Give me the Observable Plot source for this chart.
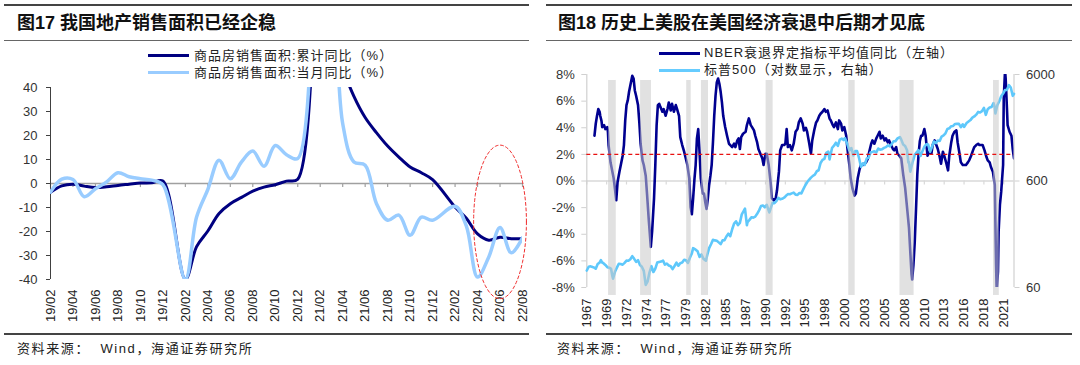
<!DOCTYPE html>
<html><head><meta charset="utf-8">
<script src="https://cdn.jsdelivr.net/npm/d3@7"></script>
<script src="https://cdn.jsdelivr.net/npm/@observablehq/plot@0.6"></script>
<style>
body{margin:0;width:1080px;height:365px;background:#fff;position:relative;overflow:hidden;font-family:"Liberation Sans",Arial,"Noto Sans CJK SC",sans-serif;color:#222}
.abs{position:absolute}
.rule{position:absolute;background:#444}
.title{position:absolute;font-size:18px;line-height:20px;font-weight:700;white-space:pre;color:#111}
.leg{position:absolute;font-size:13px;line-height:14px;letter-spacing:1px;white-space:pre;color:#222;font-family:"Liberation Sans",Arial,"Noto Sans CJK SC",sans-serif}
.sw{position:absolute;height:3px;width:41px}
.src{position:absolute;font-size:13px;line-height:14px;letter-spacing:1.6px;white-space:pre;color:#222}
</style>
</head><body>
<!-- left panel -->
<div class="rule" style="left:4px;top:4px;width:525px;height:1.5px"></div>
<div class="title" style="left:17px;top:13px">图17 我国地产销售面积已经企稳</div>
<div class="rule" style="left:4px;top:40px;width:525px;height:1px;background:#666"></div>
<div class="sw" style="left:148px;top:54px;background:#000080"></div>
<div class="leg" style="left:194px;top:49px">商品房销售面积:累计同比（%）</div>
<div class="sw" style="left:148px;top:71px;background:#99ccff"></div>
<div class="leg" style="left:194px;top:66px">商品房销售面积:当月同比（%）</div>
<div id="lp" class="abs" style="left:0;top:80px"></div>
<div class="rule" style="left:4px;top:333px;width:525px;height:1.5px"></div>
<div class="src" style="left:17px;top:342px">资料来源：  Wind，海通证券研究所</div>
<!-- right panel -->
<div class="rule" style="left:546px;top:4px;width:526px;height:1.5px"></div>
<div class="title" style="left:558px;top:13px">图18 历史上美股在美国经济衰退中后期才见底</div>
<div class="rule" style="left:546px;top:40px;width:526px;height:1px;background:#666"></div>
<div class="sw" style="left:659px;top:51.5px;background:#000090"></div>
<div class="leg" style="left:704px;top:46px">NBER衰退界定指标平均值同比（左轴）</div>
<div class="sw" style="left:659px;top:68.5px;background:#66ccff"></div>
<div class="leg" style="left:704px;top:63px">标普500（对数显示，右轴）</div>
<div id="rp" class="abs" style="left:540px;top:65px"></div>
<div class="rule" style="left:546px;top:333px;width:526px;height:1.5px"></div>
<div class="src" style="left:557px;top:342px">资料来源：  Wind，海通证券研究所</div>

<script>
// ---------------- Left chart data ----------------
const leftMonths = ["19/02","19/03","19/04","19/05","19/06","19/07","19/08","19/09","19/10","19/11","19/12",
  "20/02","20/03","20/04","20/05","20/06","20/07","20/08","20/09","20/10","20/11","20/12",
  "21/02","21/03","21/04","21/05","21/06","21/07","21/08","21/09","21/10","21/11","21/12",
  "22/02","22/03","22/04","22/05","22/06","22/07","22/08"];
const cumYoY = [-3.6,-1.0,-0.3,-1.1,-1.7,-1.4,-0.8,-0.3,0.2,0.3,1.0,
  -39.9,-26.3,-19.8,-12.5,-8.4,-5.8,-3.2,-1.5,-0.5,1.0,1.8,
  104.9,63.8,48.1,36.3,27.5,21.2,15.6,11.0,6.9,4.5,1.6,
  -9.8,-14.5,-21.0,-23.6,-22.4,-23.0,-23.0];
const monYoY = [-3.6,1.8,1.7,-5.5,-2.2,0.7,4.5,2.8,2.0,1.4,-0.5,
  -39.9,-14.0,-2.5,9.7,2.0,9.0,13.5,7.2,15.8,12.0,10.4,
  104.9,90.0,25.0,9.0,7.6,-8.3,-15.3,-13.2,-21.6,-14.0,-15.3,
  -9.5,-17.7,-39.0,-30.6,-18.3,-28.9,-22.6];
const leftTickLabels = ["19/02","19/04","19/06","19/08","19/10","19/12","20/02","20/04","20/06","20/08","20/10","20/12",
  "21/02","21/04","21/06","21/08","21/10","21/12","22/02","22/04","22/06","22/08"];
const leftYTicks = [-40,-30,-20,-10,0,10,20,30,40];
// red dashed highlight ellipse (annotation): centre month, centre value, half-width (months), half-height (value)
const highlight = {month: "22/06", y: -16, rx: 2.35, ry: 32};

// ---------------- Right chart data ----------------
const nber = [["1968-01",3.4],["1968-03",4.3],["1968-05",4.9],["1968-07",5.4],["1968-09",5.2],["1968-10",4.9],["1968-12",4.5],
["1969-01",4.05],["1969-04",4.2],["1969-06",3.9],["1969-09",4.05],["1969-10",3.7],["1969-11",2.7],["1970-02",1.4],["1970-05",0.7],
["1970-07",0.2],["1970-09",-0.6],["1970-11",-1.45],["1971-01",-0.1],["1971-04",0.7],["1971-07",1.4],["1971-09",1.9],["1971-11",2.7],
["1972-01",4.55],["1972-03",5.7],["1972-05",6.05],["1972-07",6.7],["1972-09",7.2],["1972-12",7.9],["1973-02",7.7],["1973-04",6.8],
["1973-06",6.4],["1973-09",5.7],["1973-11",4.4],["1974-01",2.8],["1974-04",1.55],["1974-06",1.2],["1974-09",0.4],["1974-11",-0.95],
["1975-02",-3.1],["1975-05",-4.95],["1975-07",-3.8],["1975-10",-1.3],["1975-12",1.2],["1976-02",4.2],["1976-04",5.7],["1976-06",5.8],
["1976-08",5.55],["1976-11",5.2],["1977-01",5.4],["1977-04",4.9],["1977-07",5.4],["1977-09",5.9],["1977-12",5.3],["1978-02",5.8],
["1978-05",5.2],["1978-08",5.7],["1978-10",5.4],["1979-01",4.9],["1979-03",3.3],["1979-06",2.7],["1979-09",2.2],["1979-11",1.8],
["1980-02",1.2],["1980-05",0.2],["1980-07",-1.95],["1980-09",-2.5],["1980-11",-1.3],["1981-01",0.1],["1981-03",1.2],["1981-05",3.2],
["1981-07",3.9],["1981-09",2.2],["1981-11",0.2],["1982-02",-0.95],["1982-04",-0.95],["1982-06",-1.6],["1982-08",-2.1],["1982-10",-1.3],
["1982-12",-0.3],["1983-02",0.4],["1983-04",1.2],["1983-06",2.9],["1983-08",4.9],["1983-10",6.4],["1983-12",7.4],["1984-02",7.7],
["1984-04",7.3],["1984-06",6.7],["1984-08",5.9],["1984-10",4.9],["1985-01",4.05],["1985-04",3.4],["1985-07",2.8],["1985-09",2.7],
["1985-12",2.55],["1986-03",2.8],["1986-05",2.55],["1986-08",3.05],["1986-10",3.2],["1986-12",2.4],["1987-02",3.3],["1987-05",3.55],
["1987-09",3.7],["1987-11",4.2],["1988-02",4.7],["1988-05",4.2],["1988-07",4.05],["1988-10",3.8],["1988-12",3.4],["1989-03",2.9],
["1989-05",2.4],["1989-08",2.05],["1989-11",1.7],["1990-01",1.2],["1990-04",2.05],["1990-06",2.05],["1990-09",1.2],["1990-12",-0.1],
["1991-02",-1.3],["1991-05",-1.45],["1991-08",-1.3],["1991-10",-0.7],["1992-01",0.7],["1992-03",2.3],["1992-06",2.7],["1992-09",2.7],
["1992-11",2.8],["1993-01",3.9],["1993-03",2.55],["1993-06",2.7],["1993-09",2.3],["1993-12",2.8],["1994-03",3.7],["1994-06",3.9],
["1994-08",4.4],["1994-11",4.7],["1995-02",4.3],["1995-04",3.8],["1995-07",4.0],["1995-09",3.7],["1995-12",2.9],["1996-03",2.05],
["1996-05",3.05],["1996-08",3.8],["1996-11",4.4],["1997-01",4.55],["1997-04",4.9],["1997-06",5.05],["1997-09",5.2],["1997-12",5.4],
["1998-02",5.2],["1998-05",5.3],["1998-08",4.7],["1998-10",4.55],["1999-01",4.2],["1999-03",4.05],["1999-06",4.4],["1999-09",3.9],
["1999-11",4.55],["2000-02",4.3],["2000-04",3.8],["2000-07",4.05],["2000-10",3.4],["2000-12",2.4],["2001-03",1.2],["2001-05",0.2],
["2001-08",-0.6],["2001-11",-1.1],["2002-01",-0.95],["2002-04",0.2],["2002-07",0.9],["2002-09",1.2],["2002-12",1.2],["2003-02",1.3],
["2003-05",1.4],["2003-08",1.7],["2003-10",2.2],["2004-01",2.8],["2004-03",3.05],["2004-06",2.8],["2004-09",3.2],["2004-11",3.4],
["2005-02",3.7],["2005-04",3.2],["2005-07",3.4],["2005-10",3.05],["2005-12",3.2],["2006-03",2.9],["2006-05",3.05],["2006-08",2.7],
["2006-11",2.4],["2007-01",2.3],["2007-04",2.55],["2007-06",2.05],["2007-09",1.9],["2007-12",1.7],["2008-03",0.5],["2008-06",-0.5],
["2008-09",-2.0],["2008-12",-3.5],["2009-02",-5.3],["2009-04",-7.0],["2009-05",-7.4],["2009-07",-6.3],["2009-09",-4.6],["2009-11",-2.1],
["2010-01",0.5],["2010-03",2.0],["2010-05",3.0],["2010-07",3.4],["2010-09",3.4],["2010-12",3.9],["2011-02",3.4],["2011-04",2.4],
["2011-05",1.9],["2011-08",2.2],["2011-11",2.05],["2012-01",2.7],["2012-04",3.05],["2012-06",2.8],["2012-09",2.4],["2012-12",1.8],
["2013-02",1.3],["2013-05",2.2],["2013-07",1.9],["2013-10",1.4],["2014-01",0.8],["2014-03",1.9],["2014-06",2.9],["2014-08",3.4],
["2014-11",3.7],["2015-02",3.8],["2015-04",2.9],["2015-07",2.05],["2015-09",1.4],["2015-12",1.2],["2016-03",1.2],["2016-05",1.2],
["2016-08",1.4],["2016-10",1.55],["2017-01",1.9],["2017-04",2.3],["2017-06",2.55],["2017-09",2.7],["2017-12",2.8],["2018-02",2.7],
["2018-05",2.7],["2018-07",2.7],["2018-10",2.3],["2019-01",1.8],["2019-03",1.55],["2019-06",1.4],["2019-08",1.05],["2019-11",0.7],
["2020-02",-0.3],["2020-03",-3.3],["2020-04",-6.3],["2020-05",-8.3],["2020-07",-6.8],["2020-08",-3.8],["2020-10",-1.8],["2020-12",-0.8],
["2021-03",1.2],["2021-04",6.2],["2021-06",8.3],["2021-07",7.7],["2021-09",5.4],["2021-10",4.2],["2022-01",3.7],["2022-04",3.4],
["2022-06",2.4],["2022-08",1.7]];
const sp500 = [["1967-01",86.6],["1967-04",94],["1967-07",94.8],["1967-10",93.3],["1968-01",92.2],["1968-03",90.2],["1968-06",99.6],
["1968-09",102.7],["1968-11",108.4],["1969-01",103],["1969-03",101.5],["1969-06",97.7],["1969-09",93.1],["1969-12",92.1],
["1970-03",89.6],["1970-05",76.6],["1970-06",72.7],["1970-09",84.3],["1970-12",92.2],["1971-03",100.3],["1971-06",99.7],
["1971-09",98.3],["1971-12",102.1],["1972-03",107.2],["1972-06",107.1],["1972-09",110.6],["1972-12",118.1],["1973-03",111.5],
["1973-06",104.3],["1973-09",108.4],["1973-12",97.6],["1974-03",94],["1974-06",86],["1974-09",63.5],["1974-12",68.6],
["1975-03",83.4],["1975-06",95.2],["1975-09",83.9],["1975-12",90.2],["1976-03",102.8],["1976-06",104.3],["1976-09",105.2],
["1976-12",107.5],["1977-03",98.4],["1977-06",100.5],["1977-09",96.5],["1977-12",95.1],["1978-03",89.2],["1978-06",95.5],
["1978-09",102.5],["1978-12",96.1],["1979-03",101.6],["1979-06",102.9],["1979-09",109.3],["1979-12",107.9],["1980-03",102.1],
["1980-06",114.2],["1980-09",125.5],["1980-11",140.5],["1981-03",136],["1981-06",131.2],["1981-09",116.2],["1981-12",122.6],
["1982-03",112],["1982-07",107.1],["1982-09",120.4],["1982-12",140.6],["1983-03",153],["1983-06",168.1],["1983-09",166.1],
["1983-12",164.9],["1984-03",159.2],["1984-06",153.2],["1984-09",166.1],["1984-12",167.2],["1985-03",180.7],["1985-06",191.9],
["1985-09",182.1],["1985-12",211.3],["1986-03",238.9],["1986-06",250.8],["1986-09",231.3],["1986-12",242.2],["1987-03",291.7],
["1987-08",329.8],["1987-11",230.3],["1987-12",247.1],["1988-03",258.9],["1988-06",273.5],["1988-09",271.9],["1988-12",277.7],
["1989-03",294.9],["1989-06",318],["1989-09",349.2],["1989-12",353.4],["1990-03",339.9],["1990-06",358],["1990-10",304],
["1990-12",330.2],["1991-03",375.2],["1991-06",371.2],["1991-09",387.9],["1991-12",417.1],["1992-03",403.7],["1992-06",408.1],
["1992-09",417.8],["1992-12",435.7],["1993-03",451.7],["1993-06",450.5],["1993-09",458.9],["1993-12",466.5],["1994-03",445.8],
["1994-06",444.3],["1994-09",462.7],["1994-12",459.3],["1995-03",500.7],["1995-06",544.8],["1995-09",584.4],["1995-12",615.9],
["1996-03",645.5],["1996-06",670.6],["1996-09",687.3],["1996-12",740.7],["1997-03",757.1],["1997-06",885.1],["1997-09",947.3],
["1997-12",970.4],["1998-03",1101.8],["1998-06",1133.8],["1998-08",957.3],["1998-12",1229.2],["1999-03",1286.4],["1999-06",1372.7],
["1999-09",1282.7],["1999-12",1469.3],["2000-03",1498.6],["2000-06",1454.6],["2000-08",1517.7],["2000-12",1320.3],["2001-03",1160.3],
["2001-06",1224.4],["2001-09",1040.9],["2001-12",1148.1],["2002-03",1147.4],["2002-06",989.8],["2002-09",815.3],["2002-12",879.8],
["2003-03",848.2],["2003-06",974.5],["2003-09",996],["2003-12",1111.9],["2004-03",1126.2],["2004-06",1140.8],["2004-09",1114.6],
["2004-12",1211.9],["2005-03",1180.6],["2005-06",1191.3],["2005-09",1228.8],["2005-12",1248.3],["2006-03",1294.8],["2006-06",1270.2],
["2006-09",1335.9],["2006-12",1418.3],["2007-03",1420.9],["2007-06",1503.4],["2007-10",1549.4],["2007-12",1468.4],["2008-03",1322.7],
["2008-06",1280],["2008-09",1166.4],["2008-11",896.2],["2008-12",903.3],["2009-02",735.1],["2009-06",919.3],["2009-09",1057.1],
["2009-12",1115.1],["2010-03",1169.4],["2010-06",1030.7],["2010-09",1141.2],["2010-12",1257.6],["2011-03",1325.8],["2011-06",1320.6],
["2011-09",1131.4],["2011-12",1257.6],["2012-03",1408.5],["2012-06",1362.2],["2012-09",1440.7],["2012-12",1426.2],["2013-03",1569.2],
["2013-06",1606.3],["2013-09",1681.6],["2013-12",1848.4],["2014-03",1872.3],["2014-06",1960.2],["2014-09",1972.3],["2014-12",2058.9],
["2015-03",2067.9],["2015-06",2063.1],["2015-09",1920],["2015-12",2043.9],["2016-02",1932.2],["2016-06",2098.9],["2016-09",2168.3],
["2016-12",2238.8],["2017-03",2362.7],["2017-06",2423.4],["2017-09",2519.4],["2017-12",2673.6],["2018-03",2640.9],["2018-06",2718.4],
["2018-09",2914],["2018-12",2506.9],["2019-03",2834.4],["2019-06",2941.8],["2019-09",2976.7],["2019-12",3230.8],["2020-02",2954.2],
["2020-03",2584.6],["2020-06",3100.3],["2020-09",3363],["2020-12",3756.1],["2021-03",3972.9],["2021-06",4297.5],["2021-09",4307.5],
["2021-12",4766.2],["2022-03",4530.4],["2022-06",3785.4],["2022-08",3955]];
const recessions = [["1969-11","1970-11"],["1974-01","1975-06"],["1980-01","1980-08"],["1981-12","1982-11"],
  ["1990-05","1991-04"],["2001-02","2001-12"],["2007-10","2009-08"],["2019-12","2020-09"]];
const rightXTicks = ["1967-01","1969-08","1972-03","1974-10","1977-05","1979-12","1982-07","1985-02","1987-09","1990-04","1992-11",
  "1995-06","1998-01","2000-08","2003-03","2005-10","2008-05","2010-12","2013-07","2016-02","2018-09","2021-04"];
const leftAxisTicks = [-8,-6,-4,-2,0,2,4,6,8];
const rightAxisTicks = [60,600,6000];
const threshold = 2;
const rightDomain = ["1967-01","2022-08"];

// ---------------- helpers ----------------
const monthPos = s => { const [yy, mm] = s.split("/").map(Number); return (yy - 19) * 12 + (mm - 2); };
const toDate = s => { const [y, m] = s.split("-").map(Number); return new Date(Date.UTC(y, m - 1, 1)); };
const leftData = leftMonths.map((m, i) => ({pos: monthPos(m), cum: cumYoY[i], mon: monYoY[i]}));
const ellipse = d3.range(0, 361, 4).map(a => ({
  pos: monthPos(highlight.month) + highlight.rx * Math.cos(a * Math.PI / 180),
  y: highlight.y + highlight.ry * Math.sin(a * Math.PI / 180)}));
const font = "'Liberation Sans', Arial, sans-serif";
const leftTickPos = leftTickLabels.map(monthPos);

const leftPlot = Plot.plot({
  width: 540, height: 254,
  marginLeft: 50, marginRight: 18, marginTop: 7, marginBottom: 55,
  x: {domain: [0, monthPos("22/08")], axis: null, label: null},
  y: {domain: [-40, 40], axis: null, label: null},
  style: {fontFamily: font, fontSize: "13px", color: "#333", background: "transparent", overflow: "visible"},
  marks: [
    Plot.ruleY([0], {stroke: "#a0a0a0", strokeWidth: 1.3}),
    Plot.ruleX(leftTickPos, {x: d => d, y1: 0, y2: -1.7, stroke: "#a0a0a0", strokeWidth: 1.2}),
    Plot.ruleX([0], {stroke: "#404040", strokeWidth: 1}),
    Plot.axisY({ticks: leftYTicks, tickFormat: d => String(d), tickSize: 4, tickPadding: 9, stroke: "#404040", fill: "#333", fontSize: 13, label: null}),
    Plot.axisX({ticks: leftTickPos, tickFormat: p => leftTickLabels[leftTickPos.indexOf(p)],
      tickRotate: -90, tickSize: 0, tickPadding: 10, fill: "#222", fontSize: 13, label: null}),
    Plot.line(leftData, {x: "pos", y: "cum", stroke: "#000080", strokeWidth: 3, curve: "catmull-rom", clip: true}),
    Plot.line(leftData, {x: "pos", y: "mon", stroke: "#99ccff", strokeWidth: 3.5, curve: "catmull-rom", clip: true}),
    Plot.line(ellipse, {x: "pos", y: "y", stroke: "#f03030", strokeWidth: 1, strokeDasharray: "3,2.5"})
  ]
});
document.getElementById("lp").appendChild(leftPlot);

const spToY = d3.scaleLog().domain([rightAxisTicks[0], rightAxisTicks[rightAxisTicks.length - 1]])
  .range([leftAxisTicks[0], leftAxisTicks[leftAxisTicks.length - 1]]);
const nberData = nber.map(([d, v]) => ({date: toDate(d), v}));
const spData = sp500.map(([d, v]) => ({date: toDate(d), y: spToY(v)}));
const recData = recessions.map(([a, b]) => ({a: toDate(a), b: toDate(b)}));
const xTickDates = rightXTicks.map(toDate);
const rightTickY = rightAxisTicks.map(spToY);

const rightPlot = Plot.plot({
  width: 540, height: 267,
  marginLeft: 46.3, marginRight: 66.5, marginTop: 9, marginBottom: 45,
  x: {type: "utc", domain: rightDomain.map(toDate), axis: null, label: null},
  y: {domain: [-8, 8], axis: null, label: null},
  style: {fontFamily: font, fontSize: "13px", color: "#333", background: "transparent", overflow: "visible"},
  marks: [
    Plot.ruleY([0], {stroke: "#d9d9d9", strokeWidth: 1.5}),
    Plot.ruleX(xTickDates, {x: d => d, y1: 0, y2: -0.3, stroke: "#d9d9d9", strokeWidth: 1.2}),
    Plot.ruleX(rightDomain.map(toDate), {x: d => d, stroke: "#d0d0d0", strokeWidth: 1.2}),
    Plot.axisY({anchor: "left", ticks: leftAxisTicks, tickFormat: d => d + "%", tickSize: 5, tickPadding: 7, stroke: "#d0d0d0", fill: "#333", fontSize: 13, label: null}),
    Plot.axisY({anchor: "right", ticks: rightTickY, tickFormat: y => String(rightAxisTicks[rightTickY.indexOf(y)]), tickSize: 5, tickPadding: 7, stroke: "#d0d0d0", fill: "#333", fontSize: 13, label: null}),
    Plot.axisX({ticks: xTickDates, tickFormat: d => String(d.getUTCFullYear()), tickRotate: -90, tickSize: 0, tickPadding: 11, fill: "#222", fontSize: 13, label: null}),
    Plot.line(nberData, {x: "date", y: "v", stroke: "#000090", strokeWidth: 2.6, clip: true}),
    Plot.line(spData, {x: "date", y: "y", stroke: "#5ec8fb", strokeWidth: 2.6}),
    Plot.rect(recData, {x1: "a", x2: "b", y1: -8.6, y2: 7.55, fill: "#c8c8c8", fillOpacity: 0.55}),
    Plot.ruleY([threshold], {stroke: "#e81010", strokeWidth: 1.1, strokeDasharray: "4,3"})
  ]
});
document.getElementById("rp").appendChild(rightPlot);
</script>
</body></html>
